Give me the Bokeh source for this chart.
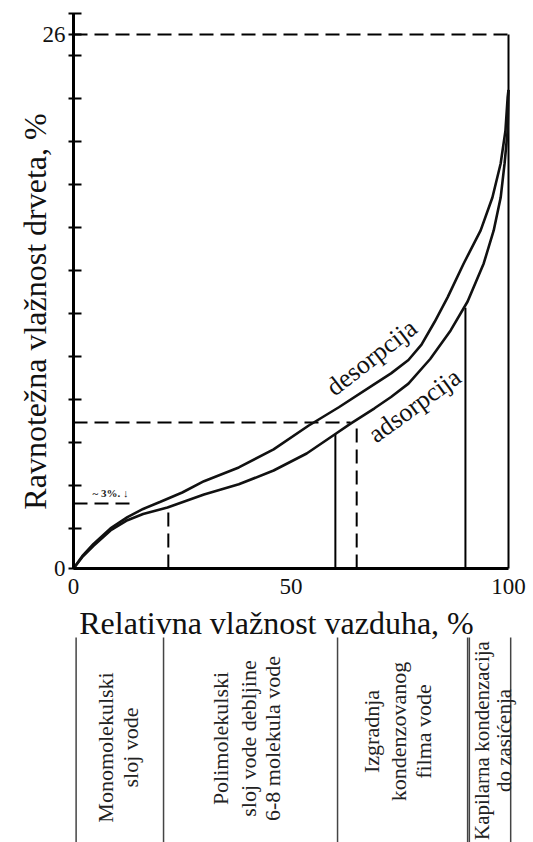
from bokeh.plotting import figure
from bokeh.models import Range1d, FixedTicker
from bokeh.embed import file_html
from bokeh.resources import INLINE
from bokeh.core.properties import value

FONT = "Liberation Serif"

# ---------------- data ----------------
# desorption isotherm (relative humidity %, equilibrium moisture content %)
rh_des = [0, 2, 4.6, 8.5, 12.4, 16, 20, 25, 30, 38, 46, 54, 61, 69, 73, 77, 80, 83, 86, 89.7, 93.6, 96.3, 98.2, 99.3, 99.8, 100]
emc_des = [0, 0.6, 1.2, 1.95, 2.5, 2.9, 3.25, 3.7, 4.25, 4.92, 5.8, 6.95, 7.85, 8.95, 9.5, 10.15, 10.9, 12.0, 13.2, 14.85, 16.46, 18.06, 19.72, 21.32, 22.93, 23.3]
# adsorption isotherm
rh_ads = [0, 2, 4.6, 8.5, 12.4, 16, 21.6, 30, 38, 46, 53.6, 60.2, 63.7, 69.2, 73, 77, 82, 86.7, 90.6, 94.3, 96.6, 98.2, 99.1, 99.8, 100]
emc_ads = [0, 0.55, 1.1, 1.85, 2.35, 2.65, 2.97, 3.6, 4.1, 4.77, 5.6, 6.55, 7.05, 7.8, 8.35, 9.0, 10.2, 11.59, 13.0, 14.85, 16.46, 18.06, 19.72, 21.32, 23.3]

# dashed guide lines
dash_x0 = [0, 0, 0, 21.8, 65.1]
dash_y0 = [26, 7.11, 3.16, 0, 0]
dash_x1 = [100, 63.7, 13.6, 21.8, 65.1]
dash_y1 = [26, 7.11, 3.16, 2.97, 7.0]
# solid guide lines
solid_x0 = [100, 60.2, 90.1]
solid_y0 = [0, 0, 0]
solid_x1 = [100, 60.2, 90.1]
solid_y1 = [26, 6.55, 12.7]

x_ticks = [0, 50, 100]
y_major_ticks = [0, 26, 27]
y_minor_ticks = [1.95, 4.04, 6.13, 8.23, 10.32, 12.41, 14.51, 16.6, 18.7, 20.79, 22.88, 24.98]
y_label_overrides = {27: ""}

x_title = "Relativna vlažnost vazduha, %"
y_title = "Ravnotežna vlažnost drveta, %"
curve_labels = ["desorpcija", "adsorpcija"]
note_text = "~ 3%. ↓"

zone_edges = [0.6, 20.7, 60.7, 90.6, 91.0, 100.5]
zone_lines = [
    ["Monomolekulski", "sloj vode"],
    ["Polimolekulski", "sloj vode debljine", "6-8 molekula vode"],
    ["Izgradnja", "kondenzovanog", "filma vode"],
    ["Kapilarna kondenzacija", "do zasićenja"],
]

# ---------------- layout (page pixels -> data) ----------------
W, H = 533, 842
X0PX, Y0PX = 73, 568        # page pixel of the origin
PXU, PYU = 4.35, 20.54      # pixels per unit


def X(px):
    return (px - X0PX) / PXU


def Y(py):
    return (Y0PX - py) / PYU


p = figure(width=W, height=H, x_range=Range1d(X(0), X(W)), y_range=Range1d(Y(H), Y(0)),
           output_backend="svg", toolbar_location=None,
           min_border=0, min_border_left=0, min_border_right=0, min_border_top=0, min_border_bottom=0)
p.outline_line_color = None
p.grid.visible = False
p.background_fill_color = "white"

# axes fixed at the origin
p.xaxis.fixed_location = 0
p.xaxis.bounds = (0, 100)
p.xaxis.ticker = FixedTicker(ticks=x_ticks)
p.xaxis.axis_line_width = 3
p.xaxis.major_tick_in = 0
p.xaxis.major_tick_out = 0
p.xaxis.minor_tick_line_color = None
p.xaxis.major_label_text_font = FONT
p.xaxis.major_label_text_font_size = "23px"
p.xaxis.major_label_text_color = "#111"
p.xaxis.major_label_standoff = 10

p.yaxis.fixed_location = 0
p.yaxis.bounds = (0, 27)
p.yaxis.ticker = FixedTicker(ticks=y_major_ticks, minor_ticks=y_minor_ticks)
p.yaxis.major_label_overrides = y_label_overrides
p.yaxis.axis_line_width = 3
p.yaxis.major_tick_in = 8
p.yaxis.major_tick_out = 5
p.yaxis.major_tick_line_width = 2
p.yaxis.minor_tick_in = 8
p.yaxis.minor_tick_out = 5
p.yaxis.minor_tick_line_width = 2
p.yaxis.minor_tick_line_color = "black"
p.yaxis.major_label_text_font = FONT
p.yaxis.major_label_text_font_size = "23px"
p.yaxis.major_label_text_color = "#111"
p.yaxis.major_label_standoff = 3

# guide lines
p.segment(x0=dash_x0, y0=dash_y0, x1=dash_x1, y1=dash_y1, line_color="black",
          line_width=2, line_dash="14 7")
p.segment(x0=solid_x0, y0=solid_y0, x1=solid_x1, y1=solid_y1, line_color="black",
          line_width=2)

# curves
p.line(rh_des, emc_des, line_color="#111", line_width=2.6)
p.line(rh_ads, emc_ads, line_color="#111", line_width=2.6)

common = dict(text_font=value(FONT), text_color="#111")
# curve labels
p.text(x=[X(371)], y=[Y(357)], text=[curve_labels[0]], angle=38, angle_units="deg",
       text_align="center", text_baseline="middle", text_font_size="26px", **common)
p.text(x=[X(414)], y=[Y(405)], text=[curve_labels[1]], angle=36, angle_units="deg",
       text_align="center", text_baseline="middle", text_font_size="26px", **common)
p.text(x=[X(110)], y=[Y(492)], text=[note_text], text_align="center", text_baseline="middle",
       text_font_size="11px", text_font_style="bold", text_font=value(FONT), text_color="#222")

# axis titles
p.text(x=[X(276)], y=[Y(622)], text=[x_title], text_align="center", text_baseline="alphabetic",
       text_font_size="32px", **common)
p.text(x=[X(34)], y=[Y(311)], text=[y_title], angle=90, angle_units="deg",
       text_align="center", text_baseline="alphabetic", text_font_size="32px", **common)

# ---------------- zone table ----------------
n_e = len(zone_edges)
p.segment(x0=zone_edges, y0=[Y(637)] * n_e, x1=zone_edges, y1=[Y(H + 5)] * n_e,
          line_color="#444", line_width=1.5)

zone_text_px = [[105, 130], [220, 248, 272], [371, 398, 423], [481, 503]]
zone_text_py = [747, 738, 731, 740]
zone_font = ["22px", "22px", "22px", "21px"]
for xs, cy, fs, lines in zip(zone_text_px, zone_text_py, zone_font, zone_lines):
    p.text(x=[X(v) for v in xs], y=[Y(cy)] * len(xs), text=lines, angle=90, angle_units="deg",
           text_align="center", text_baseline="middle", text_font_size=fs,
           text_font=value(FONT), text_color="#222")

open("out.html", "w").write(file_html(p, INLINE))
